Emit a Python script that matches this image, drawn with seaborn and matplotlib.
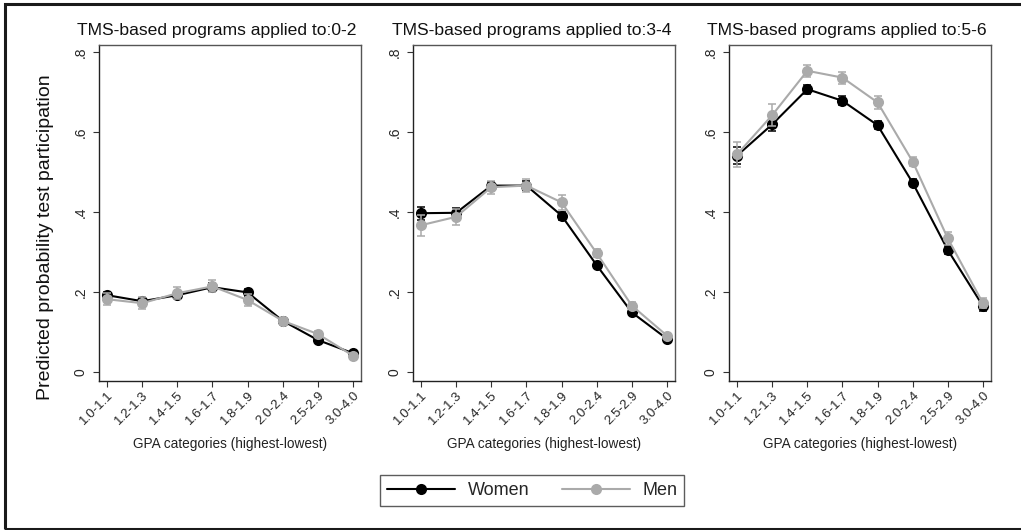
import numpy as np
import pandas as pd
import matplotlib
matplotlib.use("Agg")
import matplotlib.pyplot as plt
import seaborn as sns
from matplotlib.patches import Rectangle
from matplotlib.lines import Line2D

gpa_categories = ["1.0-1.1", "1.2-1.3", "1.4-1.5", "1.6-1.7",
                  "1.8-1.9", "2.0-2.4", "2.5-2.9", "3.0-4.0"]
panel_titles = ["TMS-based programs applied to:0-2",
                "TMS-based programs applied to:3-4",
                "TMS-based programs applied to:5-6"]

# predicted probabilities
women_0_2 = [0.192, 0.177, 0.192, 0.212, 0.199, 0.128, 0.080, 0.047]
men_0_2 = [0.182, 0.172, 0.197, 0.214, 0.180, 0.128, 0.095, 0.041]
women_3_4 = [0.397, 0.398, 0.466, 0.466, 0.391, 0.267, 0.149, 0.083]
men_3_4 = [0.367, 0.388, 0.462, 0.466, 0.424, 0.297, 0.166, 0.091]
women_5_6 = [0.541, 0.619, 0.707, 0.678, 0.617, 0.473, 0.305, 0.165]
men_5_6 = [0.544, 0.642, 0.753, 0.736, 0.674, 0.526, 0.334, 0.172]

# half-width of the confidence intervals
women_err_0_2 = [0.008, 0.008, 0.008, 0.010, 0.008, 0.005, 0.005, 0.004]
men_err_0_2 = [0.015, 0.015, 0.015, 0.015, 0.015, 0.008, 0.007, 0.005]
women_err_3_4 = [0.016, 0.012, 0.010, 0.012, 0.010, 0.007, 0.006, 0.005]
men_err_3_4 = [0.026, 0.020, 0.016, 0.016, 0.019, 0.010, 0.008, 0.006]
women_err_5_6 = [0.022, 0.017, 0.011, 0.011, 0.010, 0.009, 0.010, 0.012]
men_err_5_6 = [0.032, 0.027, 0.015, 0.015, 0.017, 0.012, 0.016, 0.012]

women = [women_0_2, women_3_4, women_5_6]
men = [men_0_2, men_3_4, men_5_6]
women_err = [women_err_0_2, women_err_3_4, women_err_5_6]
men_err = [men_err_0_2, men_err_3_4, men_err_5_6]

BLACK = "#000000"
GRAY = "#aaaaaa"

sns.set_theme(style="white")
plt.rcParams["font.family"] = ["Liberation Sans", "DejaVu Sans"]

W, H = 1021, 530
fig = plt.figure(figsize=(W / 100, H / 100), dpi=100)

# outer frame (cropped on the right in the original)
fig.patches.append(Rectangle((5 / W, 1 - 529 / H), 1030 / W, 525 / H,
                             transform=fig.transFigure, fill=False,
                             edgecolor="#1a1a1a", linewidth=2.2))

axes_left = [99, 413, 729]
axes_width = 262
axes_top, axes_bottom = 45, 381
title_centers = [217, 532, 847]

for i in range(3):
    ax = fig.add_axes([axes_left[i] / W, 1 - axes_bottom / H,
                       axes_width / W, (axes_bottom - axes_top) / H])
    df = pd.DataFrame({
        "pos": list(range(8)) * 2,
        "prob": women[i] + men[i],
        "err": women_err[i] + men_err[i],
        "sex": ["Women"] * 8 + ["Men"] * 8,
    })
    # women drawn first, men on top
    for sex, col, z in [("Women", BLACK, 2), ("Men", GRAY, 5)]:
        sub = df[df["sex"] == sex]
        ax.errorbar(sub["pos"], sub["prob"], yerr=sub["err"], fmt="none",
                    ecolor=col, elinewidth=1.1, capsize=3, capthick=1.1,
                    zorder=z)
    sns.lineplot(data=df[df["sex"] == "Women"], x="pos", y="prob",
                 color=BLACK, marker="o", markersize=8, markeredgewidth=0,
                 linewidth=1.5, legend=False, ax=ax, zorder=3)
    sns.lineplot(data=df[df["sex"] == "Men"], x="pos", y="prob",
                 color=GRAY, marker="o", markersize=8, markeredgewidth=0,
                 linewidth=1.5, legend=False, ax=ax, zorder=4)

    ax.set_xlim(-0.23, 7.23)
    ax.set_ylim(-0.0225, 0.8175)
    ax.set_yticks([0, 0.2, 0.4, 0.6, 0.8])
    ax.set_yticklabels(["0", ".2", ".4", ".6", ".8"], rotation=90,
                       va="center", fontsize=10)
    ax.set_xticks(range(8))
    ax.set_xticklabels(gpa_categories, rotation=45, ha="right",
                       rotation_mode="anchor", fontsize=9.5)
    ax.tick_params(axis="both", direction="out", length=4, width=0.8,
                   color="#333333", left=True, bottom=True, pad=2)
    ax.tick_params(axis="y", pad=4)
    for s in ax.spines.values():
        s.set_color("#555555")
        s.set_linewidth(1.0)
    ax.spines["left"].set_color("#222222")
    ax.spines["bottom"].set_color("#222222")
    ax.set_xlabel("")
    ax.set_ylabel("")
    fig.text((axes_left[i] + axes_width / 2) / W, 1 - 444 / H,
             "GPA categories (highest-lowest)", ha="center", va="center",
             fontsize=9.8, color="#222222")
    fig.text(title_centers[i] / W, 1 - 31 / H, panel_titles[i],
             ha="center", va="center", fontsize=12.6, color="#111111")

fig.text(46 / W, 1 - 237 / H, "Predicted probability test participation",
         rotation=90, ha="center", va="center", fontsize=14, color="#111111")

handles = [Line2D([0], [0], color=BLACK, marker="o", markersize=8,
                  linewidth=1.5, markeredgewidth=0),
           Line2D([0], [0], color=GRAY, marker="o", markersize=8,
                  linewidth=1.5, markeredgewidth=0)]
leg = fig.legend(handles, ["Women", "Men"], loc="center",
                 bbox_to_anchor=(532 / W, 1 - 490.5 / H), ncol=2,
                 fontsize=13, frameon=True, fancybox=False,
                 handlelength=3.8, columnspacing=1.8, handletextpad=0.67,
                 borderpad=0.4, borderaxespad=0)
leg.get_frame().set_edgecolor("#333333")
leg.get_frame().set_linewidth(1.0)

fig.savefig("out.png", dpi=100)
